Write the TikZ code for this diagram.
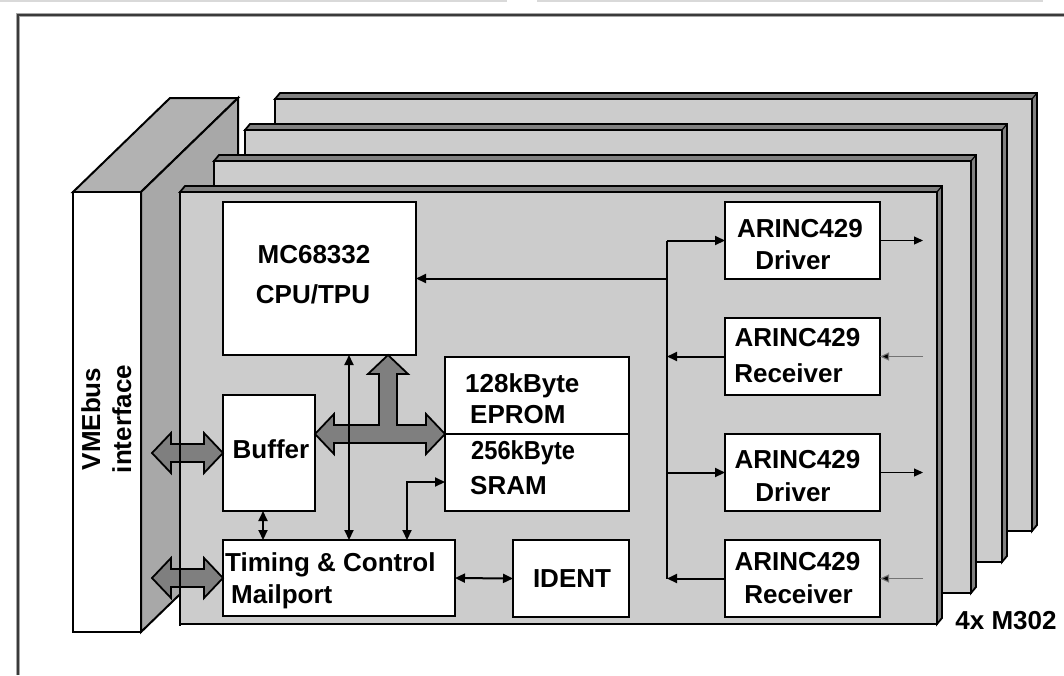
\documentclass[tikz,border=0pt]{standalone}
\usepackage{fontspec}
\setmainfont{Liberation Sans}
\usetikzlibrary{arrows.meta}
\definecolor{cardgray}{HTML}{CCCCCC}
\definecolor{edgegray}{HTML}{808080}
\definecolor{vmetop}{HTML}{B2B2B2}
\definecolor{vmeside}{HTML}{A8A8A8}
\definecolor{busgray}{HTML}{7F7F7F}
\definecolor{framecol}{HTML}{3A3A3A}
\begin{document}
\begin{tikzpicture}[x=1pt,y=-1pt,
  box/.style={draw=black, line width=2.2pt, fill=white, rectangle, inner sep=0pt, outer sep=0pt},
  lbl/.style={font=\fontsize{26}{30}\selectfont\bfseries, inner sep=0pt, anchor=base},
  lblw/.style={lbl, anchor=base west},
  conn/.style={line width=2pt, -{Triangle[length=10pt,width=9pt]}},
  biconn/.style={line width=2pt, {Triangle[length=10pt,width=9pt]}-{Triangle[length=10pt,width=9pt]}},
  extout/.style={line width=1.1pt, -{Triangle[length=9pt,width=8pt]}},
  extin/.style={line width=1.1pt, draw=black!55, -{Triangle[length=9pt,width=8pt,fill=black]}},
  busarrow/.style={draw=black, line width=1.8pt, fill=busgray, line join=miter},
  cardedge/.style={draw=black, line width=1.8pt, fill=edgegray, line join=miter},
  cardface/.style={draw=black, line width=2pt, fill=cardgray}]
\useasboundingbox (0,0) rectangle (1064,675);

% scan artefact line and frame
\draw[black!15, line width=1.5pt] (0,0.8) -- (507,0.8);
\draw[black!15, line width=1.5pt] (537,0.8) -- (1043,0.8);
\draw[black!35, line width=3.2pt] (18,675) -- (18,15) -- (1064,15);
\draw[framecol, line width=1.4pt] (18,675) -- (18,15) -- (1064,15);

% VMEbus interface block
\draw[line width=2pt, fill=vmetop, line join=miter] (73,192) -- (170,98) -- (238,98) -- (141,192) -- cycle;
\draw[line width=2pt, fill=vmeside, line join=miter] (141,192) -- (238,98) -- (238,538) -- (141,632) -- cycle;
\draw[line width=2pt, fill=white] (73,192) rectangle (141,632);
\node[lbl, rotate=90] (vme1) at (100,419) {VMEbus};
\node[lbl, rotate=90] (vme2) at (131,419) {interface};

% stacked cards
\foreach \L/\T in {275/99, 245/130, 214/161, 180/192} {
  \draw[cardedge] (\L,\T) -- ++(5,-6) -- ++(757,0) -- ++(0,432) -- ++(-5,6) -- ++(0,-432) -- cycle;
  \draw[cardface] (\L,\T) rectangle ++(757,432);
  \draw[line width=1.2pt] (\L+757,\T) -- ++(5,-6);
}
\node[lbl] (m302) at (1006,629) {4x M302};

% boxes
\node[box, minimum width=193pt, minimum height=153pt] (cpu) at (319.5,278.5) {};
\node[box, minimum width=92pt, minimum height=116pt] (buf) at (269,453) {};
\node[box, minimum width=232pt, minimum height=76pt] (tc) at (339,578) {};
\node[box, minimum width=184pt, minimum height=77pt] (eprom) at (537,395.5) {};
\node[box, minimum width=184pt, minimum height=77pt] (sram) at (537,472.5) {};
\node[box, minimum width=116pt, minimum height=77pt] (ident) at (571,578.5) {};
\node[box, minimum width=155pt, minimum height=77pt] (d1) at (802.5,240.5) {};
\node[box, minimum width=155pt, minimum height=77pt] (r1) at (802.5,356.5) {};
\node[box, minimum width=155pt, minimum height=77pt] (d2) at (802.5,472.5) {};
\node[box, minimum width=155pt, minimum height=77pt] (r2) at (802.5,578.5) {};

% labels
\node[lbl] (cpu1) at (314,263) {MC68332};
\node[lbl] (cpu2) at (313,303) {CPU/TPU};
\node[lbl] (buft) at (271,458) {Buffer};
\node[lblw] (tc1) at (225,571) {Timing \& Control};
\node[lblw] (tc2) at (231,603) {Mailport};
\node[lblw] (ep1) at (465,392) {128kByte};
\node[lblw] (ep2) at (470,423) {EPROM};
\node[lblw] (sr1) at (471,459) {\scalebox{0.91}[1]{256kByte}};
\node[lblw] (sr2) at (470,494) {SRAM};
\node[lbl] (idt) at (572,587) {IDENT};
\node[lbl] (d1a) at (800,237) {ARINC429};
\node[lbl] (d1b) at (793,269) {Driver};
\node[lbl] (r1a) at (797.5,346) {ARINC429};
\node[lbl] (r1b) at (788.5,382) {Receiver};
\node[lbl] (d2a) at (797.5,468) {ARINC429};
\node[lbl] (d2b) at (793,501) {Driver};
\node[lbl] (r2a) at (797.5,570) {ARINC429};
\node[lbl] (r2b) at (798.5,603) {Receiver};

% wide grey bus arrows
\draw[busarrow] (buf.west) -- ++(-19,-20) -- ++(0,11) -- ++(-33,0) -- ++(0,-11) -- ++(-19,20)
  -- ++(19,20) -- ++(0,-11) -- ++(33,0) -- ++(0,11) -- cycle;
\draw[busarrow] (tc.west) -- ++(-19,-20) -- ++(0,11) -- ++(-33,0) -- ++(0,-11) -- ++(-19,20)
  -- ++(19,20) -- ++(0,-11) -- ++(33,0) -- ++(0,11) -- cycle;
\draw[busarrow] (eprom.south west) -- ++(-19,-20) -- ++(0,11) -- ++(-29,0) -- ++(0,-51)
  -- ++(11,0) -- ++(-20,-19) -- ++(-20,19) -- ++(11,0) -- ++(0,51) -- ++(-45,0)
  -- ++(0,-11) -- ++(-19,20) -- ++(19,20) -- ++(0,-11) -- ++(92,0) -- ++(0,11) -- cycle;
\draw[line width=2pt] (180,192) -- (180,626);

% connectors
\coordinate (busx) at (667,0);
\coordinate (outx) at (923,0);
\draw[biconn] ([xshift=126pt]cpu.south west) -- ([xshift=126pt]tc.north west);
\draw[biconn] ([xshift=40pt]buf.south west) -- ([xshift=40pt]tc.north west);
\draw[biconn] ([xshift=184pt]tc.north west) |- ([yshift=-9.5pt]sram.west);
\draw[biconn] (tc.east) -- (ident.west);
\draw[line width=2.2pt] (d1.west -| busx) -- (r2.west -| busx);
\draw[conn] (cpu.east -| busx) -- (cpu.east);
\draw[conn] (d1.west -| busx) -- (d1.west);
\draw[conn] (r1.west) -- (r1.west -| busx);
\draw[conn] (d2.west -| busx) -- (d2.west);
\draw[conn] (r2.west) -- (r2.west -| busx);
\draw[extout] (d1.east) -- (d1.east -| outx);
\draw[extout] (d2.east) -- (d2.east -| outx);
\draw[extin] (r1.east -| outx) -- (r1.east);
\draw[extin] (r2.east -| outx) -- (r2.east);
\end{tikzpicture}
\end{document}
